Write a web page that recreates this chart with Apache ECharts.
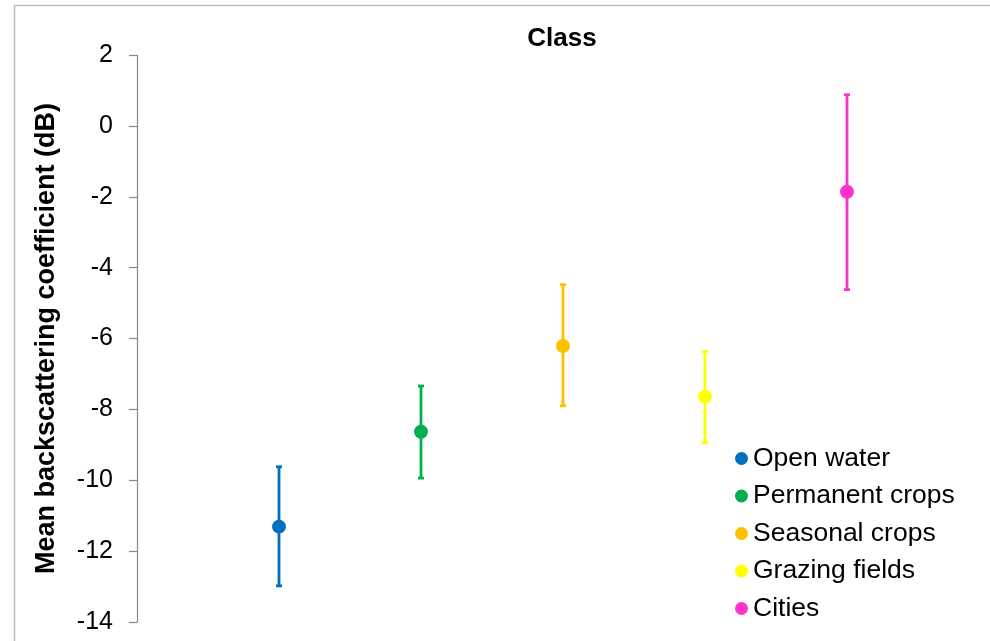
<!DOCTYPE html>
<html>
<head>
<meta charset="utf-8">
<script src="https://cdn.jsdelivr.net/npm/echarts@6/dist/echarts.min.js"></script>
<style>
html,body{margin:0;padding:0;background:#fff;}
#main{width:990px;height:641px;}
</style>
</head>
<body>
<div id="main"></div>
<script>
const classes = ['Open water', 'Permanent crops', 'Seasonal crops', 'Grazing fields', 'Cities'];
const positions = [1, 2, 3, 4, 5];
const means = [-11.31, -8.63, -6.21, -7.64, -1.86];
const upper = [-9.62, -7.34, -4.48, -6.37, 0.88];
const lower = [-12.98, -9.94, -7.90, -8.94, -4.62];
const colors = ['#0070C0', '#00B050', '#FFC000', '#FFFF00', '#FF33CC'];
const yTicks = { min: -14, max: 2, interval: 2 };

const FONT = '"Liberation Sans", Arial, sans-serif';
const chart = echarts.init(document.getElementById('main'));

const series = [];
classes.forEach((name, i) => {
  series.push({
    type: 'custom',
    name: name + '_err',
    silent: true,
    data: [[positions[i], lower[i], upper[i]]],
    encode: { x: 0, y: [1, 2] },
    renderItem: function (params, api) {
      const x = api.value(0);
      const lo = api.coord([x, api.value(1)]);
      const hi = api.coord([x, api.value(2)]);
      const cap = 3;
      const style = { stroke: colors[i], lineWidth: 2.8 };
      return {
        type: 'group',
        children: [
          { type: 'line', shape: { x1: lo[0], y1: lo[1], x2: hi[0], y2: hi[1] }, style: style },
          { type: 'line', shape: { x1: hi[0] - cap, y1: hi[1], x2: hi[0] + cap, y2: hi[1] }, style: style },
          { type: 'line', shape: { x1: lo[0] - cap, y1: lo[1], x2: lo[0] + cap, y2: lo[1] }, style: style }
        ]
      };
    },
    z: 2
  });
  series.push({
    type: 'scatter',
    name: name,
    data: [[positions[i], means[i]]],
    symbol: 'circle',
    symbolSize: 14,
    itemStyle: { color: colors[i], opacity: 1 },
    z: 3
  });
});

chart.setOption({
  animation: false,
  backgroundColor: '#fff',
  color: colors,
  grid: { left: 137, right: 1, top: 55, bottom: 19, containLabel: false },
  xAxis: {
    type: 'value', min: 0, max: 6,
    show: false
  },
  yAxis: {
    type: 'value',
    min: yTicks.min, max: yTicks.max, interval: yTicks.interval,
    name: 'Mean backscattering coefficient (dB)',
    nameLocation: 'middle',
    nameGap: 77,
    nameRotate: 90,
    nameTextStyle: { fontFamily: FONT, fontSize: 27, fontWeight: 'bold', color: '#000' },
    axisLine: { show: true, lineStyle: { color: '#868686', width: 1.2 } },
    axisTick: { show: true, inside: false, length: 8, lineStyle: { color: '#868686', width: 1.2 } },
    axisLabel: { fontFamily: FONT, fontSize: 25, color: '#000', margin: 24 },
    splitLine: { show: false }
  },
  legend: {
    data: classes,
    orient: 'vertical',
    left: 730,
    top: 440,
    itemGap: 10.5,
    itemWidth: 13,
    itemHeight: 13,
    icon: 'circle',
    textStyle: { fontFamily: FONT, fontSize: 26.5, color: '#000' }
  },
  graphic: [
    {
      type: 'rect',
      shape: { x: 14.5, y: 5.5, width: 2000, height: 2000 },
      style: { fill: 'none', stroke: '#BDBDBD', lineWidth: 1.5 },
      silent: true, z: -10
    },
    {
      type: 'text',
      x: 562, y: 39,
      style: {
        text: 'Class', fontFamily: FONT, fontSize: 26, fontWeight: 'bold', fill: '#000',
        textAlign: 'center', textVerticalAlign: 'middle'
      }
    }
  ],
  series: series
});
</script>
</body>
</html>
